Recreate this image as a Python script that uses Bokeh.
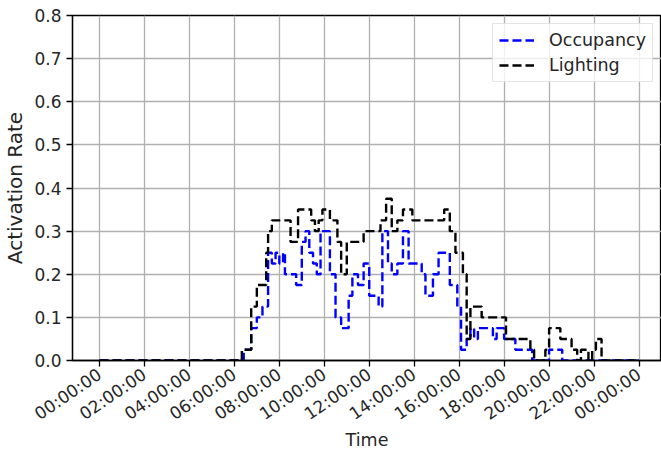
import math
from bokeh.plotting import figure
from bokeh.models import Range1d, FixedTicker, Legend, LegendItem
from bokeh.embed import file_html
from bokeh.resources import INLINE

# ---- data (step series, value holds from its time until the next time) ----
occ_times = ["00:00", "06:25", "06:45", "07:00", "07:15", "07:30", "07:40", "07:50",
             "08:00", "08:10", "08:15", "08:30", "08:45", "09:00", "09:10", "09:20",
             "09:30", "09:40", "09:50", "10:15", "10:30", "10:45", "11:05", "11:15",
             "11:30", "11:45", "12:00", "12:25", "12:35", "12:50", "13:00", "13:15",
             "13:30", "13:45", "14:20", "14:30", "14:50", "15:05", "15:35", "15:55",
             "16:05", "16:20", "16:30", "16:40", "16:50", "17:30", "17:40", "18:00",
             "18:30", "19:15", "20:00", "20:35", "24:00"]
occ_values = [0.0, 0.025, 0.075, 0.1, 0.125, 0.25, 0.225, 0.25,
              0.225, 0.25, 0.2, 0.2, 0.175, 0.275, 0.3, 0.25,
              0.225, 0.2, 0.3, 0.2, 0.1, 0.075, 0.15, 0.2,
              0.175, 0.225, 0.15, 0.125, 0.3, 0.225, 0.2, 0.225,
              0.3, 0.225, 0.2, 0.15, 0.2, 0.25, 0.175, 0.125,
              0.025, 0.05, 0.075, 0.05, 0.075, 0.05, 0.075, 0.05,
              0.025, 0.0, 0.025, 0.0, 0.0]

light_times = ["00:00", "06:20", "06:45", "07:00", "07:25", "07:30", "07:40", "08:30",
               "08:50", "09:25", "09:35", "09:45", "09:55", "10:15", "10:35", "10:45",
               "11:00", "11:45", "12:30", "12:45", "13:00", "13:15", "13:30", "13:55",
               "15:20", "15:35", "15:50", "16:10", "16:20", "16:30", "17:00", "18:05",
               "19:10", "19:20", "19:50", "20:00", "20:30", "21:00", "21:15", "21:25",
               "21:45", "21:55", "22:05", "22:20", "24:00"]
light_values = [0.0, 0.025, 0.125, 0.175, 0.25, 0.3, 0.325, 0.275,
                0.35, 0.325, 0.3, 0.325, 0.35, 0.325, 0.275, 0.2,
                0.275, 0.3, 0.325, 0.375, 0.3, 0.325, 0.35, 0.325,
                0.35, 0.3, 0.25, 0.2, 0.05, 0.125, 0.1, 0.05,
                0.025, 0.0, 0.025, 0.075, 0.05, 0.025, 0.0, 0.025,
                0.0, 0.025, 0.05, 0.0, 0.0]

x_tick_hours = [0, 2, 4, 6, 8, 10, 12, 14, 16, 18, 20, 22, 24]
x_tick_labels = ["00:00:00", "02:00:00", "04:00:00", "06:00:00", "08:00:00",
                 "10:00:00", "12:00:00", "14:00:00", "16:00:00", "18:00:00",
                 "20:00:00", "22:00:00", "00:00:00"]
y_ticks = [0.0, 0.1, 0.2, 0.3, 0.4, 0.5, 0.6, 0.7, 0.8]


def to_hours(t):
    h, m = t.split(":")
    return int(h) + int(m) / 60.0


occ_x = [to_hours(t) for t in occ_times]
light_x = [to_hours(t) for t in light_times]

FONT = "DejaVu Sans"

p = figure(width=661, height=454, output_backend="svg", toolbar_location=None,
           x_range=Range1d(-1.2, 25.0), y_range=Range1d(0, 0.8),
           min_border_left=72, min_border_right=0, min_border_top=15,
           min_border_bottom=94)
p.background_fill_color = "white"
p.border_fill_color = "white"
p.outline_line_color = "black"
p.outline_line_width = 1.3

r_occ = p.step(occ_x, occ_values, mode="after", line_color="blue", line_width=2.4,
               line_dash="9 4")
r_light = p.step(light_x, light_values, mode="after", line_color="black", line_width=2.4,
                 line_dash="9 4")

p.xaxis.ticker = FixedTicker(ticks=x_tick_hours)
p.xaxis.major_label_overrides = {h: lab for h, lab in zip(x_tick_hours, x_tick_labels)}
p.xaxis.major_label_orientation = 0.6
p.yaxis.ticker = FixedTicker(ticks=y_ticks)
p.yaxis.major_label_overrides = {v: f"{v:.1f}" for v in y_ticks}

for ax in (p.xaxis[0], p.yaxis[0]):
    ax.axis_line_color = "black"
    ax.axis_line_width = 1.3
    ax.major_tick_line_color = "black"
    ax.major_tick_line_width = 1.3
    ax.major_tick_out = 6
    ax.major_tick_in = 0
    ax.minor_tick_line_color = None
    ax.major_label_text_font = FONT
    ax.major_label_text_font_size = "17px"
    ax.major_label_text_color = "#262626"
    ax.axis_label_text_font = FONT
    ax.axis_label_text_font_size = "17.5px"
    ax.axis_label_text_font_style = "normal"
    ax.axis_label_text_color = "#262626"

p.yaxis.axis_label_text_font_size = "20px"
p.xaxis.axis_label = "Time"
p.yaxis.axis_label = "Activation Rate"
p.xaxis.axis_label_standoff = -5
p.yaxis.axis_label_standoff = 4
p.xaxis.major_label_standoff = 6
p.yaxis.major_label_standoff = 5

p.grid.grid_line_color = "#b0b0b0"
p.grid.grid_line_width = 1.3

legend = Legend(items=[LegendItem(label="Occupancy", renderers=[r_occ]),
                       LegendItem(label="Lighting", renderers=[r_light])],
                location="top_right")
legend.label_text_font = FONT
legend.label_text_font_size = "17.5px"
legend.label_text_color = "#262626"
legend.glyph_width = 35
legend.glyph_height = 18
legend.label_height = 18
legend.label_standoff = 15
legend.spacing = 5
legend.padding = 6
legend.margin = 8
legend.border_line_color = "#cccccc"
legend.background_fill_alpha = 0.8
p.add_layout(legend)

open("out.html", "w").write(file_html(p, INLINE))
